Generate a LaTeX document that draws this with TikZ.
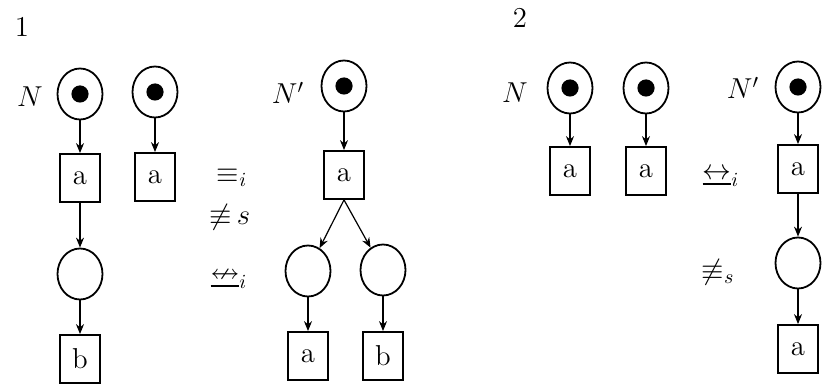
\documentclass[tikz,border=0pt]{standalone}
\usepackage{amsmath}
\usepackage{amssymb}
\usetikzlibrary{arrows.meta, positioning, shapes.geometric}

\begin{document}
\begin{tikzpicture}[
  x=0.5pt, y=-0.5pt,
  place/.style={draw, ellipse, line width=0.9pt, minimum width=22.5pt, minimum height=25.5pt, inner sep=0pt},
  marked/.style={place, path picture={\fill (path picture bounding box.center) circle (4.3pt);}},
  trans/.style={draw, rectangle, line width=0.9pt, minimum width=20pt, minimum height=24pt, inner sep=0pt, font=\Large},
  arrow/.style={-{Stealth[length=5pt,width=4pt]}, line width=0.6pt},
  lbl/.style={font=\Large}
]
\useasboundingbox (0,0) rectangle (825,385);

% panel 1, net N
\node[lbl] (num1) at (22,27) {1};
\node[lbl] (lblN) at (30,97) {$N$};
\node[marked] (p1) at (80,94) {};
\node[marked] (p2) at (155,92) {};
\node[trans] (t1) at (80,178) {a};
\node[trans] (t2) at (155,177) {a};
\node[place] (p3) at (80,274) {};
\node[trans] (t3) at (80,359) {b};

% relations
\node[lbl] (eqi) at (232,178) {$\equiv_i$};
\node[lbl] (neqs) at (230,217) {${\not\equiv}\,s$};
\node[lbl] (nbi) at (229,280) {$\underline{\nleftrightarrow}_i$};

% panel 1, net N'
\node[lbl] (lblN2) at (288,93) {$N'$};
\node[marked] (q1) at (344,86) {};
\node[trans] (u1) at (344,175) {a};
\node[place] (q2) at (308,271) {};
\node[place] (q3) at (383,270) {};
\node[trans] (u2) at (308,356) {a};
\node[trans] (u3) at (383,356) {b};

\draw[arrow] (p1) -- (t1);
\draw[arrow] (p2) -- (t2);
\draw[arrow] (t1) -- (p3);
\draw[arrow] (p3) -- (t3);
\draw[arrow] (q1) -- (u1);
\draw[arrow] (u1.south) -- (q2);
\draw[arrow] (u1.south) -- (q3);
\draw[arrow] (q2) -- (u2);
\draw[arrow] (q3) -- (u3);

% panel 2
\node[lbl] (num2) at (520,18) {2};
\node[lbl] (lblN3) at (515,93) {$N$};
\node[marked] (r1) at (570,88) {};
\node[marked] (r2) at (646,88) {};
\node[trans] (v1) at (570,171) {a};
\node[trans] (v2) at (646,171) {a};
\node[lbl] (bii) at (721,178) {$\underline{\leftrightarrow}_i$};
\node[lbl] (neqs2) at (718,272) {$\not\equiv_s$};

\node[lbl] (lblN4) at (743,88) {$N'$};
\node[marked] (s1) at (798,87) {};
\node[trans] (w1) at (798,169) {a};
\node[place] (s2) at (798,263) {};
\node[trans] (w2) at (798,349) {a};

\draw[arrow] (r1) -- (v1);
\draw[arrow] (r2) -- (v2);
\draw[arrow] (s1) -- (w1);
\draw[arrow] (w1) -- (s2);
\draw[arrow] (s2) -- (w2);

\end{tikzpicture}
\end{document}
